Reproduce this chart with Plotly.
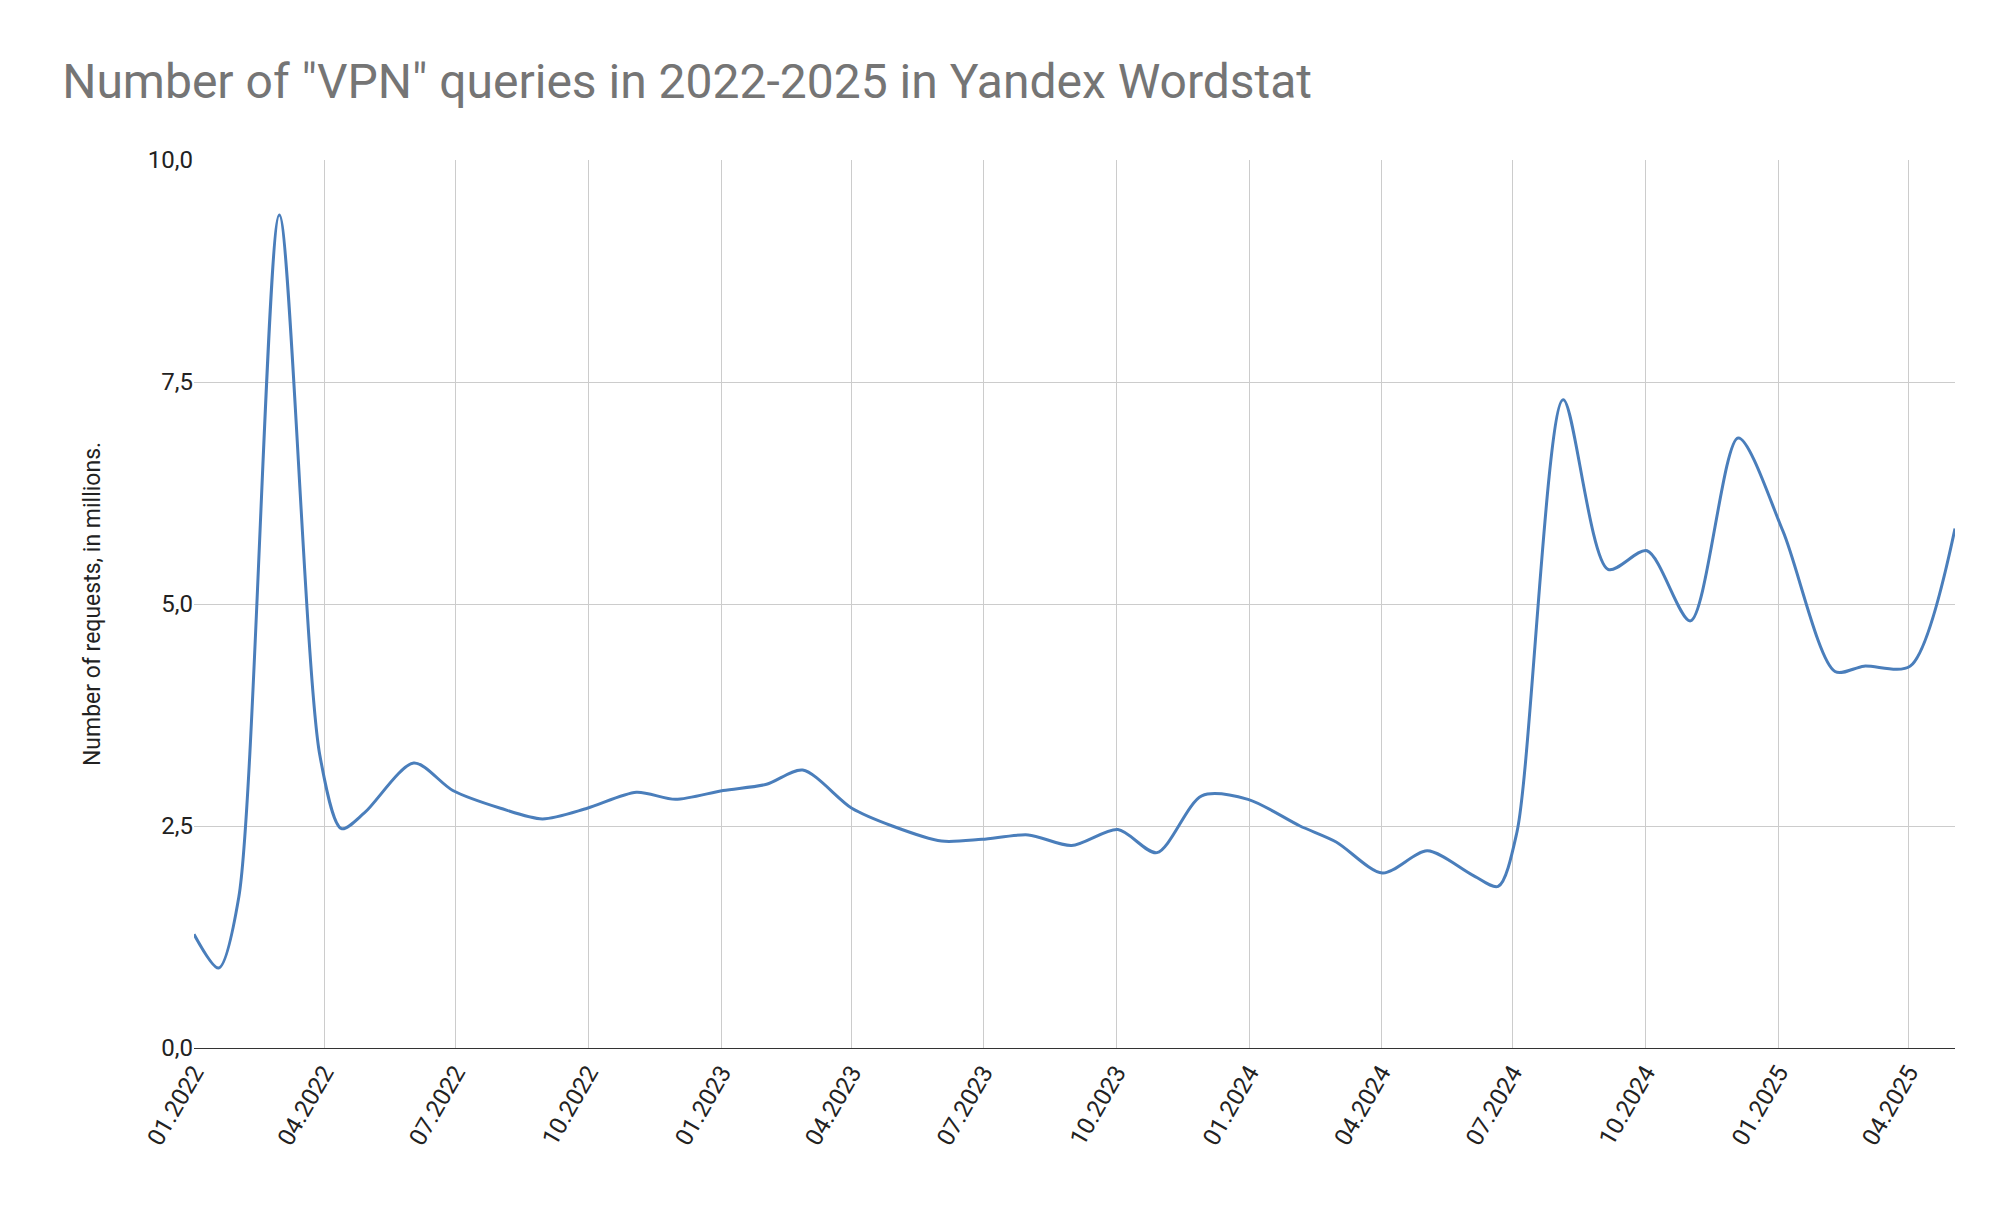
import plotly.graph_objects as go

dates = ["2022-01-01", "2022-01-18", "2022-02-01", "2022-03-01", "2022-03-29", "2022-04-13",
         "2022-04-29", "2022-06-02", "2022-06-29", "2022-08-01", "2022-08-30", "2022-09-30",
         "2022-11-03", "2022-11-30", "2023-01-02", "2023-02-01", "2023-02-26", "2023-04-01",
         "2023-04-29", "2023-06-02", "2023-06-30", "2023-08-01", "2023-08-31", "2023-10-02",
         "2023-10-29", "2023-11-29", "2023-12-31", "2024-02-05", "2024-03-01", "2024-04-02",
         "2024-05-03", "2024-06-03", "2024-06-21", "2024-07-04", "2024-08-05", "2024-09-05",
         "2024-10-02", "2024-11-01", "2024-12-04", "2025-01-04", "2025-02-09", "2025-03-01",
         "2025-04-02", "2025-05-03"]
requests_m = [1.28, 0.9, 1.7, 9.38, 3.3, 2.47, 2.65, 3.21, 2.9, 2.7, 2.58, 2.7,
              2.88, 2.8, 2.9, 2.97, 3.13, 2.7, 2.5, 2.33, 2.35, 2.4, 2.28, 2.46,
              2.2, 2.84, 2.8, 2.5, 2.32, 1.97, 2.22, 1.95, 1.82, 2.43, 7.3, 5.39,
              5.6, 4.81, 6.87, 5.82, 4.24, 4.3, 4.3, 5.85]
tick_dates = ["2022-01-01", "2022-04-01", "2022-07-01", "2022-10-01", "2023-01-01", "2023-04-01",
              "2023-07-01", "2023-10-01", "2024-01-01", "2024-04-01", "2024-07-01", "2024-10-01",
              "2025-01-01", "2025-04-01"]

fig = go.Figure(go.Scatter(x=dates, y=requests_m, mode="lines",
                           line=dict(color="#4a7ebb", width=3, shape="spline", smoothing=0.8)))

fig.update_layout(
    width=2006, height=1212, plot_bgcolor="white", paper_bgcolor="white",
    font=dict(family="Roboto, Arial", color="#222"),
    separators=",.",
    title=dict(text='Number of "VPN" queries in 2022-2025 in Yandex Wordstat',
               x=0.027, xanchor="left", y=0.94, yanchor="middle",
               font=dict(size=48, color="#757575")),
    margin=dict(l=186, r=59, t=152, b=172),
    showlegend=False,
)
fig.update_xaxes(range=["2022-01-01", "2025-05-03"], tickvals=tick_dates, tickformat="%m.%Y",
                 tickangle=-60, tickfont=dict(size=24), showgrid=True, gridcolor="#cccccc",
                 linecolor="#333", showline=True, ticks="")
fig.update_yaxes(range=[0, 10], tickvals=[0, 2.5, 5, 7.5, 10], tickformat=".1f",
                 tickfont=dict(size=24), gridcolor="#cccccc", zeroline=False,
                 title=dict(text="Number of requests, in millions.", font=dict(size=23), standoff=40))

fig.write_html("out.html")
